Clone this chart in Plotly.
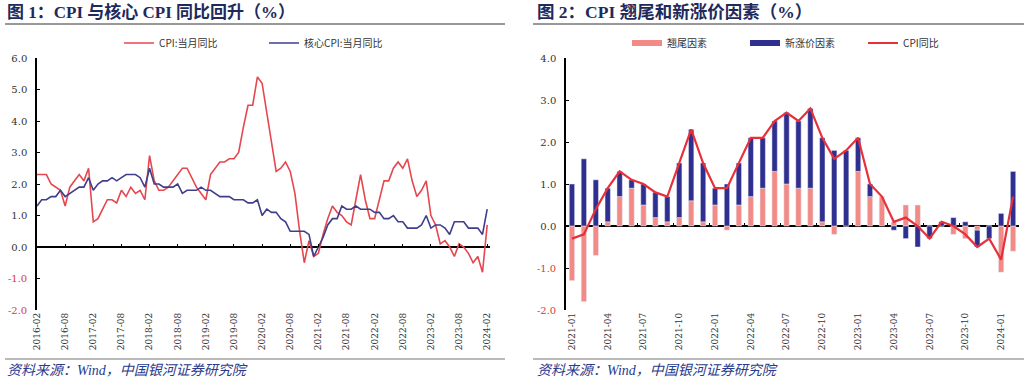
import plotly.graph_objects as go

# ---------------- data ----------------
left_months = [f"{y}-{m:02d}" for y in range(2016, 2025) for m in range(1, 13)]
left_months = left_months[left_months.index("2016-02"):left_months.index("2024-02") + 1]

cpi = [2.3, 2.3, 2.3, 2.0, 1.9, 1.8, 1.3, 1.9, 2.1, 2.3, 2.1,
       2.5, 0.8, 0.9, 1.2, 1.5, 1.5, 1.4, 1.8, 1.6, 1.9, 1.7, 1.8,
       1.5, 2.9, 2.1, 1.8, 1.8, 1.9, 2.1, 2.3, 2.5, 2.5, 2.2, 1.9,
       1.7, 1.5, 2.3, 2.5, 2.7, 2.7, 2.8, 2.8, 3.0, 3.8, 4.5, 4.5,
       5.4, 5.2, 4.3, 3.3, 2.4, 2.5, 2.7, 2.4, 1.7, 0.5, -0.5, 0.2,
       -0.3, -0.2, 0.4, 0.9, 1.3, 1.1, 1.0, 0.8, 0.7, 1.5, 2.3, 1.5,
       0.9, 0.9, 1.5, 2.1, 2.1, 2.5, 2.7, 2.5, 2.8, 2.1, 1.6, 1.8,
       2.1, 1.0, 0.7, 0.1, 0.2, 0.0, -0.3, 0.1, 0.0, -0.2, -0.5, -0.3,
       -0.8, 0.7]

core_cpi = [1.3, 1.5, 1.5, 1.6, 1.6, 1.8, 1.6, 1.7, 1.8, 1.9, 1.9,
            2.2, 1.8, 2.0, 2.1, 2.1, 2.2, 2.1, 2.2, 2.3, 2.3, 2.3, 2.2,
            1.9, 2.5, 2.0, 2.0, 1.9, 1.9, 1.9, 2.0, 1.7, 1.8, 1.8, 1.8,
            1.9, 1.8, 1.8, 1.7, 1.6, 1.6, 1.6, 1.5, 1.5, 1.5, 1.4, 1.4,
            1.5, 1.0, 1.2, 1.1, 1.1, 0.9, 0.8, 0.5, 0.5, 0.5, 0.5, 0.4,
            -0.3, 0.0, 0.3, 0.7, 0.9, 0.9, 1.3, 1.2, 1.2, 1.3, 1.2, 1.2,
            1.2, 1.1, 1.1, 0.9, 0.9, 1.0, 0.8, 0.8, 0.6, 0.6, 0.6, 0.7,
            1.0, 0.6, 0.7, 0.7, 0.6, 0.4, 0.8, 0.8, 0.8, 0.6, 0.6, 0.6,
            0.4, 1.2]

right_months = left_months[left_months.index("2021-01"):]

carryover = [-1.3, -1.8, -0.7, 0.1, 0.7, 0.9, 0.5, 0.2, 0.1, 0.2, 0.6, 0.1,
             0.5, -0.1, 0.5, 0.7, 0.9, 1.3, 1.0, 0.9, 0.9, 0.1, -0.2, 0.0,
             1.3, 0.7, 0.7, 0.1, 0.5, 0.5, 0.0, 0.0, -0.2, -0.3, -0.1, 0.0,
             -1.1, -0.6]
new_price = [1.0, 1.6, 1.1, 0.8, 0.6, 0.2, 0.5, 0.6, 0.6, 1.3, 1.7, 1.4,
             0.4, 1.0, 1.0, 1.4, 1.2, 1.2, 1.7, 1.6, 1.9, 2.0, 1.8, 1.8,
             0.8, 0.3, 0.0, -0.1, -0.3, -0.5, -0.3, 0.1, 0.2, 0.1, -0.4, -0.3,
             0.3, 1.3]
cpi_right = cpi[left_months.index("2021-01"):]

left_y_ticks = [6, 5, 4, 3, 2, 1, 0, -1, -2]
right_y_ticks = [4, 3, 2, 1, 0, -1, -2]

# ---------------- styling ----------------
W, H = 1024, 382
RED_L = "#E5474E"
BLUE_L = "#3E3E8C"
PINK = "#F28A86"
NAVY = "#2F2F8F"
RED_R = "#E8303A"
TITLE_C = "#1E2A5C"
SERIF = "Liberation Serif, Noto Sans CJK SC"
TICKF = "DejaVu Serif, Liberation Serif"
CJK = "Noto Sans CJK SC, Liberation Serif"

def px_x(p):
    return p / W

def px_y(p):
    return 1 - p / H

def ytext(v):
    s = f"{v:.1f}"
    if v < 0:
        return f'<span style="color:#D9383F">{s}</span>'
    return s

fig = go.Figure()

lx = list(range(len(left_months)))
rx = list(range(len(right_months)))

# left chart
fig.add_trace(go.Scatter(x=lx, y=cpi, mode="lines", name="CPI:当月同比",
                         line=dict(color=RED_L, width=1.6), legend="legend",
                         xaxis="x", yaxis="y"))
fig.add_trace(go.Scatter(x=lx, y=core_cpi, mode="lines", name="核心CPI:当月同比",
                         line=dict(color=BLUE_L, width=1.6), legend="legend",
                         xaxis="x", yaxis="y"))

# right chart
fig.add_trace(go.Bar(x=rx, y=carryover, name="翘尾因素", marker_color=PINK,
                     showlegend=False, xaxis="x2", yaxis="y2"))
fig.add_trace(go.Bar(x=rx, y=new_price, name="新涨价因素", marker_color=NAVY,
                     showlegend=False, xaxis="x2", yaxis="y2"))
fig.add_trace(go.Scatter(x=rx, y=cpi_right, mode="lines", name="CPI同比",
                         line=dict(color=RED_R, width=2.2), showlegend=False,
                         xaxis="x2", yaxis="y2"))
# legend entries for right chart
for nm, col, wd in [("翘尾因素", PINK, 6), ("新涨价因素", NAVY, 6), ("CPI同比", RED_R, 2)]:
    fig.add_trace(go.Scatter(x=[None], y=[None], mode="lines", name=nm,
                             line=dict(color=col, width=wd), legend="legend2",
                             xaxis="x2", yaxis="y2"))

# invisible traces for tick axes on zero line
fig.add_trace(go.Scatter(x=[0], y=[None], showlegend=False, xaxis="x3", yaxis="y", hoverinfo="skip"))
fig.add_trace(go.Scatter(x=[0], y=[None], showlegend=False, xaxis="x4", yaxis="y2", hoverinfo="skip"))

ydom = [px_y(310), px_y(58)]
lrange = [0, len(left_months) - 1 + 0.6]
rrange = [-0.5, len(right_months) - 0.5]
ltick = [i for i, m in enumerate(left_months) if m[5:] in ("02", "08")]
rtick = [i for i, m in enumerate(right_months) if m[5:] in ("01", "04", "07", "10")]

ymin_l, ymax_l = -2, 6
ymin_r, ymax_r = -2, 4
zero_l = ydom[0] + (0 - ymin_l) / (ymax_l - ymin_l) * (ydom[1] - ydom[0])
zero_r = ydom[0] + (0 - ymin_r) / (ymax_r - ymin_r) * (ydom[1] - ydom[0])

xtickfont = dict(family=TICKF, size=9, color="#333333")
ytickfont = dict(family=TICKF, size=10, color="#333333")

fig.update_layout(
    width=W, height=H, margin=dict(l=0, r=0, t=0, b=0, autoexpand=False),
    paper_bgcolor="white", plot_bgcolor="white",
    barmode="relative", bargap=0.55,
    showlegend=True,
    xaxis=dict(domain=[px_x(37), px_x(490)], range=lrange, tickmode="array",
               tickvals=ltick, ticktext=[left_months[i] for i in ltick],
               tickangle=-90, tickfont=xtickfont, showgrid=False, showline=False,
               zeroline=False, ticks="", anchor="y", automargin=False),
    yaxis=dict(domain=ydom, range=[ymin_l, ymax_l], tickmode="array",
               tickvals=left_y_ticks, ticktext=[ytext(v) for v in left_y_ticks],
               tickfont=ytickfont, showgrid=False, showline=True, linecolor="black",
               linewidth=1.5, ticks="inside", ticklen=3, tickcolor="black",
               zeroline=True, zerolinecolor="black", zerolinewidth=1.5,
               ticklabelstandoff=6, anchor="x", automargin=False),
    xaxis3=dict(overlaying="x", anchor="free", position=zero_l, range=lrange,
                tickmode="array", tickvals=ltick, showticklabels=False,
                ticks="inside", ticklen=3, tickcolor="black", showgrid=False,
                showline=False, zeroline=False, automargin=False),
    xaxis2=dict(domain=[px_x(566), px_x(1019)], range=rrange, tickmode="array",
                tickvals=rtick, ticktext=[right_months[i] for i in rtick],
                tickangle=-90, tickfont=xtickfont, showgrid=False, showline=False,
                zeroline=False, ticks="", anchor="y2", automargin=False),
    yaxis2=dict(domain=ydom, range=[ymin_r, ymax_r], tickmode="array",
                tickvals=right_y_ticks, ticktext=[ytext(v) for v in right_y_ticks],
                tickfont=ytickfont, showgrid=False, showline=True, linecolor="black",
                linewidth=1.5, ticks="inside", ticklen=3, tickcolor="black",
                zeroline=True, zerolinecolor="black", zerolinewidth=1.5,
                ticklabelstandoff=6, anchor="x2", automargin=False),
    xaxis4=dict(overlaying="x2", anchor="free", position=zero_r, range=rrange,
                tickmode="array", tickvals=[i - 0.5 for i in rtick], showticklabels=False,
                ticks="inside", ticklen=3, tickcolor="black", showgrid=False,
                showline=False, zeroline=False, automargin=False),
    legend=dict(orientation="h", x=px_x(119), y=px_y(43), xanchor="left", yanchor="middle",
                font=dict(family=CJK, size=10, color="#333333"), entrywidth=100,
                itemwidth=30, bgcolor="rgba(0,0,0,0)"),
    legend2=dict(orientation="h", x=px_x(627), y=px_y(43), xanchor="left", yanchor="middle",
                 font=dict(family=CJK, size=10, color="#333333"), entrywidth=73,
                 itemwidth=30, bgcolor="rgba(0,0,0,0)"),
)

# titles, separators, source notes
fig.add_annotation(x=px_x(5), y=px_y(12), xref="paper", yref="paper", xanchor="left",
                   yanchor="middle", showarrow=False,
                   text="<b>图 1：CPI 与核心 CPI 同比回升（%）</b>",
                   font=dict(family=SERIF, size=17, color=TITLE_C))
fig.add_annotation(x=px_x(535), y=px_y(12), xref="paper", yref="paper", xanchor="left",
                   yanchor="middle", showarrow=False,
                   text="<b>图 2：CPI 翘尾和新涨价因素（%）</b>",
                   font=dict(family=SERIF, size=17.5, color=TITLE_C))
for txt_x in (5, 535):
    fig.add_annotation(x=px_x(txt_x), y=px_y(370), xref="paper", yref="paper",
                       xanchor="left", yanchor="middle", showarrow=False,
                       text="<i>资料来源：Wind，中国银河证券研究院</i>",
                       font=dict(family=SERIF, size=14, color="#2B3A8C"))
for (x0, x1) in ((5, 505), (533, 1024)):
    fig.add_shape(type="line", xref="paper", yref="paper", x0=px_x(x0), x1=px_x(x1),
                  y0=px_y(24), y1=px_y(24), line=dict(color="#777777", width=1.5))
    fig.add_shape(type="line", xref="paper", yref="paper", x0=px_x(x0), x1=px_x(x1),
                  y0=px_y(359), y1=px_y(359), line=dict(color="#777777", width=1.2))

fig.write_html("out.html", config={"displayModeBar": False},
               post_script="document.body.style.margin='0';document.body.style.overflow='hidden';")
